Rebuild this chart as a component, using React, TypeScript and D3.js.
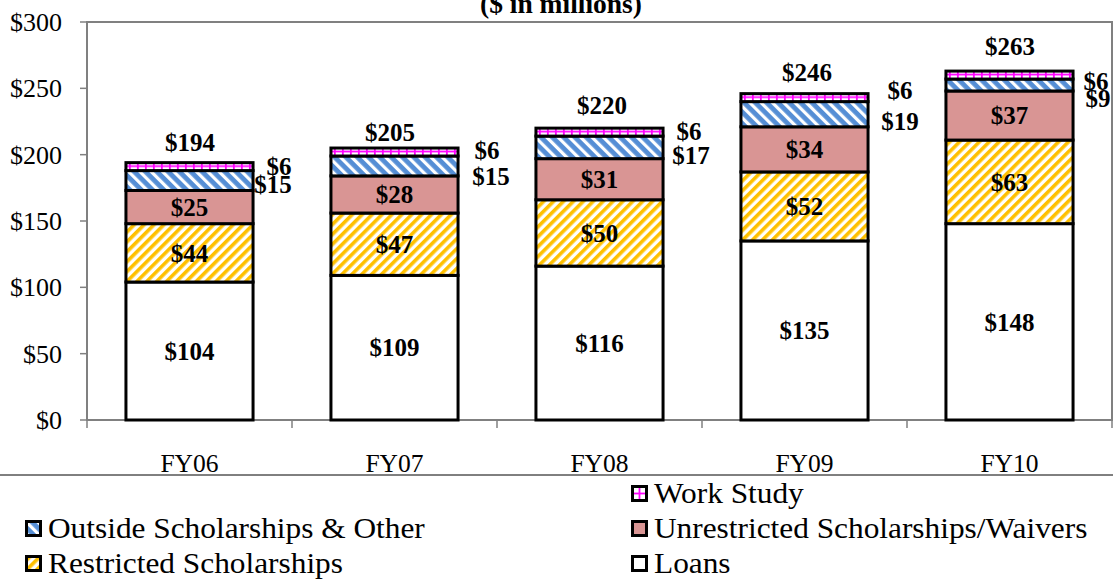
import React from "react";
import * as d3 from "d3";

const categories = ["FY06", "FY07", "FY08", "FY09", "FY10"];
const loans = [104, 109, 116, 135, 148];
const restricted = [44, 47, 50, 52, 63];
const unrestricted = [25, 28, 31, 34, 37];
const outside = [15, 15, 17, 19, 9];
const workStudy = [6, 6, 6, 6, 6];
const totals = [194, 205, 220, 246, 263];
const yTicks = [0, 50, 100, 150, 200, 250, 300];

const seriesNames = [
  "Loans",
  "Restricted Scholarships",
  "Unrestricted Scholarships/Waivers",
  "Outside Scholarships & Other",
  "Work Study",
];

// label nudges (layout only)
const workLabelNudge = [
  [26, 0], [29, -2], [26, -1], [32, -7], [23, 6],
];
const outsideLabelNudge = [
  [20, 3.5], [33, 10], [28, 7.6], [32, 6.8], [25, 13],
];
const totalNudge = [
  [0.5, -20], [-4.5, -16], [2.5, -23], [2.5, -21.5], [0.5, -25],
];

const W = 1113;
const H = 582;
const FONT = "'Liberation Serif', 'Times New Roman', serif";

export default function App() {
  const x = d3.scaleBand<string>().domain(categories).range([87, 1112]).paddingInner(0.38).paddingOuter(0.19);
  const y = d3.scaleLinear().domain([0, 300]).range([420, 22]);

  const rows = categories.map((c, i) => ({
    cat: c,
    Loans: loans[i],
    "Restricted Scholarships": restricted[i],
    "Unrestricted Scholarships/Waivers": unrestricted[i],
    "Outside Scholarships & Other": outside[i],
    "Work Study": workStudy[i],
  }));
  const stack = d3.stack<any>().keys(seriesNames)(rows);

  const fills: Record<string, string> = {
    Loans: "#ffffff",
    "Restricted Scholarships": "url(#pRestricted)",
    "Unrestricted Scholarships/Waivers": "#d99594",
    "Outside Scholarships & Other": "url(#pOutside)",
    "Work Study": "url(#pWorkLegend)",
  };

  const bw = x.bandwidth();

  const legendItems = [
    { name: "Work Study", col: 1, row: 0 },
    { name: "Outside Scholarships & Other", col: 0, row: 1 },
    { name: "Unrestricted Scholarships/Waivers", col: 1, row: 1 },
    { name: "Restricted Scholarships", col: 0, row: 2 },
    { name: "Loans", col: 1, row: 2 },
  ];
  const colX = [25, 631];
  const rowY = [485, 520, 555];

  return (
    <svg
      width={W}
      height={H}
      style={{ position: "absolute", left: 0, top: 0, display: "block", background: "#fff" }}
      fontFamily={FONT}
    >
      <defs>
        <pattern id="pRestricted" patternUnits="userSpaceOnUse" width="7" height="7" patternTransform="rotate(45)">
          <rect width="7" height="7" fill="#fff" />
          <rect width="3.6" height="7" fill="#ffc000" />
        </pattern>
        <pattern id="pOutside" patternUnits="userSpaceOnUse" width="8" height="8" patternTransform="rotate(-45)">
          <rect width="8" height="8" fill="#558ed5" />
          <rect width="3.2" height="8" fill="#fff" />
        </pattern>
        {stack[4].map((d, i) => (
          <pattern
            key={i}
            id={`pWork${i}`}
            patternUnits="userSpaceOnUse"
            width="8"
            height="8"
            x={x(categories[i])}
            y={y(d[1])}
          >
            <rect width="8" height="8" fill="#fff" />
            <rect y="2.6" width="8" height="1.8" fill="#ff00ff" />
            <rect x="3" width="1.8" height="8" fill="#ff00ff" />
          </pattern>
        ))}
        <pattern
          id="pWorkLegend"
          patternUnits="userSpaceOnUse"
          width="17"
          height="17"
          x={colX[1]}
          y={rowY[0]}
        >
          <rect width="17" height="17" fill="#fff" />
          <rect y="7.6" width="17" height="1.8" fill="#ff00ff" />
          <rect x="7.6" width="1.8" height="17" fill="#ff00ff" />
        </pattern>
      </defs>

      {/* title (second line visible) */}
      <text x={561} y={13} textAnchor="middle" fontSize={27.5} fontWeight="bold">
        ($ in millions)
      </text>

      {/* plot area border */}
      <rect x={87} y={22} width={1112 - 87} height={420 - 22} fill="none" stroke="#808080" strokeWidth={2} />

      {/* y ticks */}
      {yTicks.map((t) => (
        <g key={t}>
          <line x1={80} x2={87} y1={y(t)} y2={y(t)} stroke="#808080" strokeWidth={1.5} />
          <text x={62} y={y(t)} dy="0.35em" textAnchor="end" fontSize={26}>
            {`$${t}`}
          </text>
        </g>
      ))}

      {/* x ticks */}
      {categories.map((c, i) => {
        const x0 = (x(c) as number) - x.step() * 0.19;
        return (
          <g key={c}>
            <line x1={x0} x2={x0} y1={420} y2={428} stroke="#808080" strokeWidth={1.5} />
            {i === categories.length - 1 && (
              <line x1={x0 + x.step()} x2={x0 + x.step()} y1={420} y2={428} stroke="#808080" strokeWidth={1.5} />
            )}
            <text x={(x(c) as number) + bw / 2} y={472} textAnchor="middle" fontSize={25.5}>
              {c}
            </text>
          </g>
        );
      })}

      {/* bars */}
      {stack.map((s, si) => (
        <g key={s.key}>
          {s.map((d, i) => (
            <rect
              key={i}
              x={x(categories[i])}
              y={y(d[1])}
              width={bw}
              height={y(d[0]) - y(d[1])}
              fill={si === 4 ? `url(#pWork${i})` : fills[s.key]}
              stroke="#000"
              strokeWidth={3}
            />
          ))}
        </g>
      ))}

      {/* inside labels */}
      {stack.slice(0, 3).map((s) =>
        s.map((d, i) => (
          <text
            key={s.key + i}
            x={(x(categories[i]) as number) + bw / 2}
            y={(y(d[0]) + y(d[1])) / 2}
            dy="0.35em"
            textAnchor="middle"
            fontSize={25}
            fontWeight="bold"
          >
            {`$${d[1] - d[0]}`}
          </text>
        ))
      )}

      {/* outside labels */}
      {stack[3].map((d, i) => (
        <text
          key={"o" + i}
          x={(x(categories[i]) as number) + bw + outsideLabelNudge[i][0]}
          y={(y(d[0]) + y(d[1])) / 2 + outsideLabelNudge[i][1]}
          dy="0.35em"
          textAnchor="middle"
          fontSize={25}
          fontWeight="bold"
        >
          {`$${outside[i]}`}
        </text>
      ))}
      {stack[4].map((d, i) => (
        <text
          key={"w" + i}
          x={(x(categories[i]) as number) + bw + workLabelNudge[i][0]}
          y={(y(d[0]) + y(d[1])) / 2 + workLabelNudge[i][1]}
          dy="0.35em"
          textAnchor="middle"
          fontSize={25}
          fontWeight="bold"
        >
          {`$${workStudy[i]}`}
        </text>
      ))}

      {/* totals */}
      {totals.map((t, i) => (
        <text
          key={"t" + i}
          x={(x(categories[i]) as number) + bw / 2 + totalNudge[i][0]}
          y={y(t) + totalNudge[i][1]}
          dy="0.35em"
          textAnchor="middle"
          fontSize={25}
          fontWeight="bold"
        >
          {`$${t}`}
        </text>
      ))}

      {/* legend border line */}
      <line x1={0} x2={W} y1={475} y2={475} stroke="#000" strokeWidth={1} />

      {/* legend */}
      {legendItems.map((it) => (
        <g key={it.name}>
          <rect
            x={colX[it.col] + 1.5}
            y={rowY[it.row] + 1.5}
            width={14}
            height={14}
            fill={fills[it.name]}
            stroke="#000"
            strokeWidth={3}
          />
          <text
            x={0}
            y={0}
            transform={`translate(${colX[it.col] + 23},${rowY[it.row] + 18}) scale(1.1,1)`}
            fontSize={28.5}
          >
            {it.name}
          </text>
        </g>
      ))}
    </svg>
  );
}
